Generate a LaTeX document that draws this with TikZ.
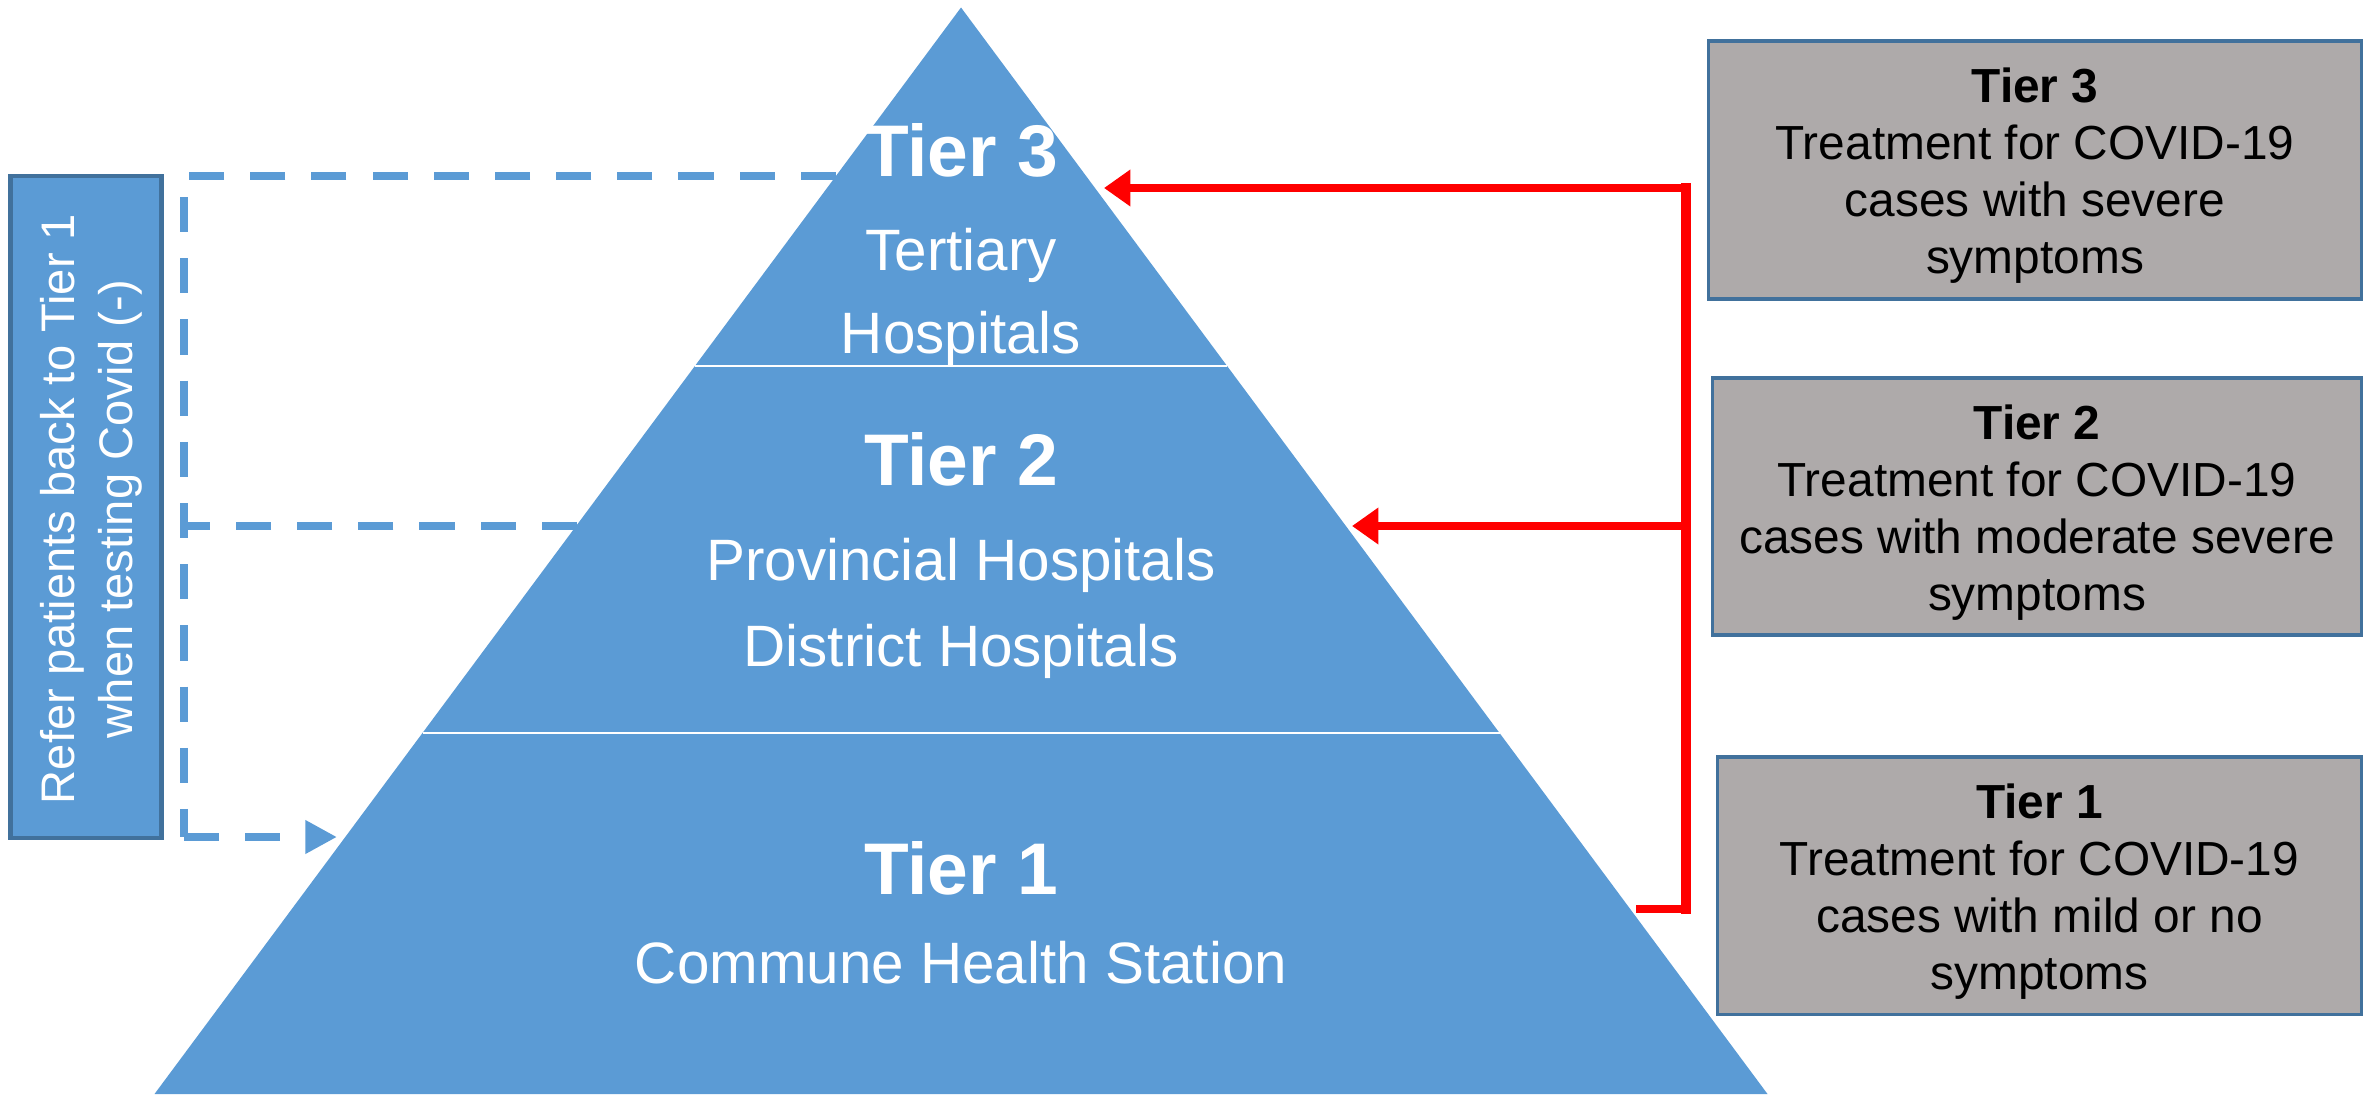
\documentclass[tikz,border=0pt]{standalone}
\usepackage{fontspec}
\setmainfont{Liberation Sans}
\usetikzlibrary{arrows.meta}
\definecolor{pblue}{HTML}{5B9BD5}
\definecolor{bordblue}{HTML}{41719C}
\definecolor{boxgray}{HTML}{AEAAAA}
\begin{document}
\begin{tikzpicture}[x=0.01cm,y=-0.01cm,
  sepline/.style={draw=white,line width=0.8pt},
  headtxt/.style={text=white,font=\fontsize{20.8}{25}\selectfont\bfseries,anchor=base,inner sep=0pt},
  bodytxt/.style={text=white,font=\fontsize{16.6}{20}\selectfont,anchor=base,inner sep=0pt},
  graybox/.style={fill=boxgray,draw=bordblue,line width=0.9pt,inner sep=0pt},
  boxtxt/.style={align=center,font=\fontsize{13.6}{16.2}\selectfont,text=black,inner sep=0pt},
  bluebox/.style={fill=pblue,draw=bordblue,line width=1.2pt,inner sep=0pt},
  bluetxt/.style={align=center,font=\fontsize{13.4}{16.5}\selectfont,text=white,inner sep=0pt,rotate=90},
  dashline/.style={draw=pblue,line width=2.5pt,dash pattern=on 10pt off 7.4pt},
  redline/.style={draw=red,line width=2.2pt},
  redtip/.style={-{Triangle[length=7.5pt,width=10pt]}},
  bluetip/.style={-{Triangle[length=9pt,width=9pt]}},
]
\useasboundingbox (0,0) rectangle (2364,1094);
% pyramid
\fill[pblue] (961,7.5) -- (154.5,1094) -- (1767.5,1094) -- cycle;
\draw[sepline] (694.9,366) -- (1227.1,366);
\draw[sepline] (422.5,733) -- (1499.5,733);
% pyramid texts
\node[headtxt] (t3h) at (961,176) {Tier 3};
\node[bodytxt] (t3a) at (961,271) {Tertiary};
\node[bodytxt] (t3b) at (961,353) {Hospitals};
\node[headtxt] (t2h) at (961,485) {Tier 2};
\node[bodytxt] (t2a) at (961,580) {Provincial Hospitals};
\node[bodytxt] (t2b) at (961,666) {District Hospitals};
\node[headtxt] (t1h) at (961,894) {Tier 1};
\node[bodytxt] (t1a) at (961,983) {Commune Health Station};
% right boxes
\node[graybox,minimum width=6.52cm,minimum height=2.58cm] (b3) at (2035,170) {};
\node[boxtxt] (b3t) at ([yshift=-1.7pt]b3.center) {\textbf{Tier 3}\\Treatment for COVID-19\\cases with severe\\symptoms};
\node[graybox,minimum width=6.48cm,minimum height=2.57cm] (b2) at (2037,506.5) {};
\node[boxtxt] (b2t) at ([yshift=-1.7pt]b2.center) {\textbf{Tier 2}\\Treatment for COVID-19\\cases with moderate severe\\symptoms};
\node[graybox,minimum width=6.43cm,minimum height=2.57cm] (b1) at (2039.5,885.5) {};
\node[boxtxt] (b1t) at ([yshift=-1.7pt]b1.center) {\textbf{Tier 1}\\Treatment for COVID-19\\cases with mild or no\\symptoms};
% left box
\node[bluebox,minimum width=1.51cm,minimum height=6.62cm] (lb) at (86,507) {};
\node[bluetxt] (lbt) at (91.5,509) {Refer patients back to Tier 1\\when testing Covid (-)};
% dashed connectors
\coordinate (d3s) at (836,176);
\coordinate (dc) at (184,837);
\coordinate (dtip) at (337,837);
\coordinate (d2s) at (577,526);
\coordinate (d2e) at (184,526);
\draw[dashline] (d3s) -| (dc);
\draw[dashline,bluetip] (dc) -- (dtip);
\draw[dashline] (d2s) -- (d2e);
% red connectors
\coordinate (r3tip) at (1104,188);
\coordinate (r3c) at (1686,188);
\coordinate (r2tip) at (1352,526);
\coordinate (r2c) at (1686,526);
\coordinate (r1s) at (1636,909);
\coordinate (r1c) at (1686,909);
\draw[redline,redtip] (r3c) -- (r3tip);
\draw[redline,redtip] (r2c) -- (r2tip);
\draw[redline] (r1s) -- (r1c);
\draw[red,line width=2.6pt,line cap=rect] (r3c) -- (r1c);
\end{tikzpicture}
\end{document}
